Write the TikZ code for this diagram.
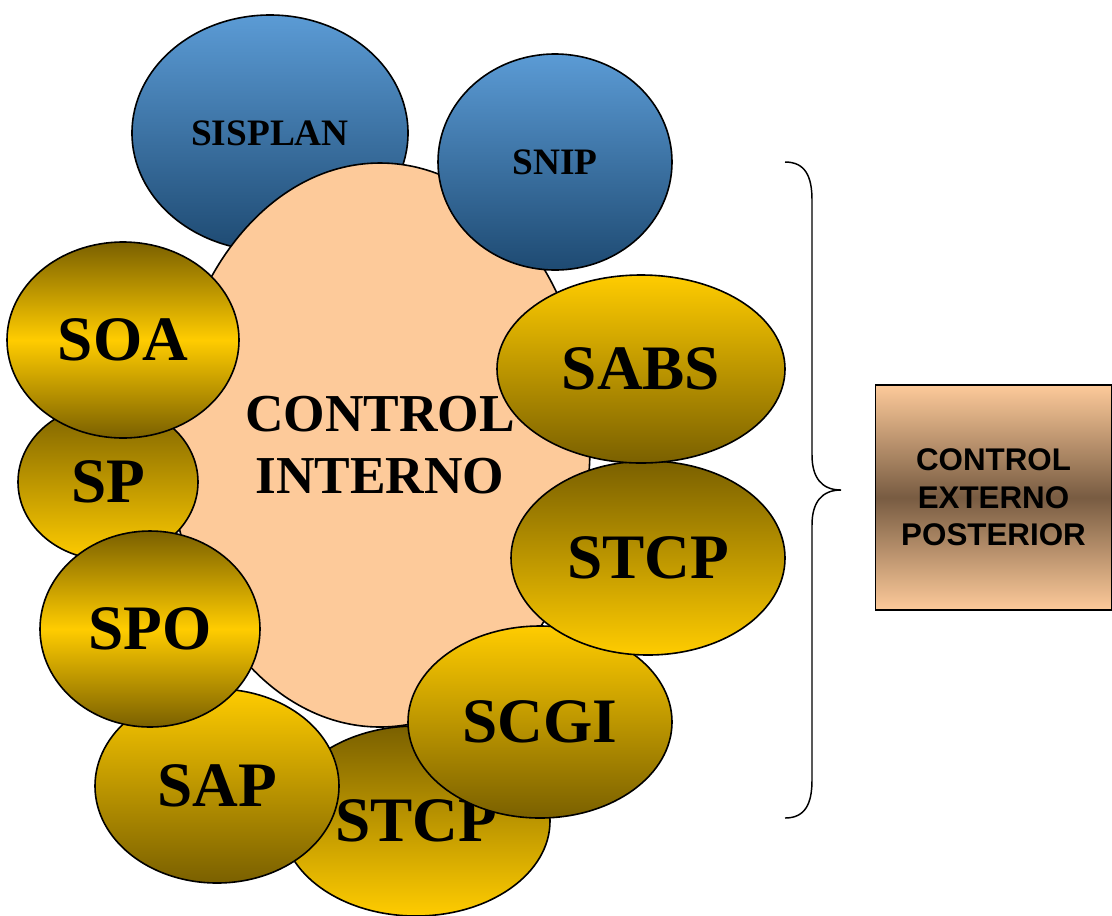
\documentclass[tikz,border=0pt]{standalone}
\usepackage{fontspec}
\usepackage{graphicx}
\setmainfont{Liberation Serif}
\newfontfamily\boxfont{Liberation Sans}
\usetikzlibrary{shapes.geometric}
\definecolor{goldbright}{HTML}{FFCC00}
\definecolor{golddark}{HTML}{7A6000}
\definecolor{bluelight}{HTML}{5B9BD5}
\definecolor{bluedark}{HTML}{1E4A72}
\definecolor{peach}{HTML}{FDCA9A}
\definecolor{brownmid}{HTML}{785C42}
\begin{document}
\begin{tikzpicture}[x=0.75pt,y=-0.75pt,
  bub/.style n args={2}{ellipse, draw=black, line width=1.2pt, inner sep=0pt,
    minimum width=#1*0.75pt, minimum height=#2*0.75pt},
  goldtxt/.style={font=\bfseries\fontsize{47.5}{50}\selectfont},
  bluetxt/.style={font=\bfseries\fontsize{28}{32}\selectfont},
  darkup/.style={top color=golddark, bottom color=goldbright},
  darkdown/.style={top color=goldbright, bottom color=golddark},
  darkends/.style={top color=golddark, bottom color=golddark, middle color=goldbright},
  bluefill/.style={top color=bluelight, bottom color=bluedark},
]
\useasboundingbox (0,0) rectangle (1112,915);

% systems feeding the internal control
\node[bub={276}{236}, bluefill, bluetxt] (sisplan) at (270,133) {SISPLAN};
\node[bub={420}{564}, fill=peach, align=center,
      font=\bfseries\fontsize{40}{46.5}\selectfont] (ci) at (380,445) {CONTROL\\INTERNO};
\node[bub={234}{216}, bluefill, bluetxt] (snip) at (555,162) {SNIP};

% subsystems around the ring
\node[bub={268}{190}, darkup, goldtxt] (stcpb) at (416,821) {STCP};
\node[bub={264}{192}, darkdown, goldtxt] (scgi) at (540,722) {SCGI};
\node[bub={244}{194}, darkdown, goldtxt] (sap) at (217,786) {SAP};
\node[bub={180}{156}, darkup, goldtxt] (sp) at (108,482) {SP};
\node[bub={220}{196}, darkends, goldtxt] (spo) at (150,629) {SPO};
\node[bub={232}{196}, darkends, goldtxt] (soa) at (123,340) {SOA};
\node[bub={274}{194}, darkup, goldtxt] (stcpr) at (648,558) {STCP};
\node[bub={288}{188}, darkdown, goldtxt] (sabs) at (641,369) {SABS};

% external control box
\node[draw=black, line width=1.2pt, minimum width=236*0.75pt, minimum height=225*0.75pt,
      inner sep=0pt, top color=peach, bottom color=peach, middle color=brownmid,
      align=center, font=\boxfont\bfseries\fontsize{23.5}{28}\selectfont] (cep) at (993.5,497.5)
      {CONTROL\\EXTERNO\\POSTERIOR};

% brace grouping the whole internal control
\coordinate (bt) at (785,162);
\coordinate (bb) at (785,818);
\coordinate (tip) at (841,490);
\draw[line width=1.1pt] (bt) .. controls (805,162) and (812,176) .. (812,200)
  -- (812,455) .. controls (812,478) and (822,490) .. (tip)
  .. controls (822,490) and (812,502) .. (812,525)
  -- (812,780) .. controls (812,804) and (805,818) .. (bb);
\end{tikzpicture}
\end{document}
